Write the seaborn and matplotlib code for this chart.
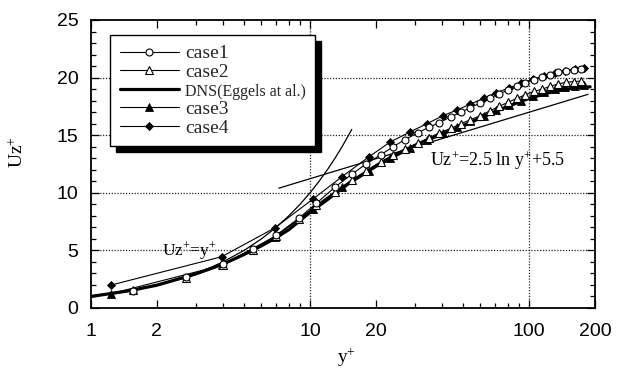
import matplotlib
matplotlib.use("Agg")
import matplotlib.pyplot as plt
import seaborn as sns
from matplotlib.patches import Rectangle
from matplotlib.ticker import FixedLocator, NullFormatter

# ---------------- data ----------------
dns_yp = [0.8, 1.0, 1.5, 2.0, 3.0, 4.0, 5.0, 6.0, 7.0, 8.0, 10.0, 12.0, 15.0, 20.0, 25.0,
          30.0, 40.0, 50.0, 60.0, 80.0, 100.0, 130.0, 160.0, 190.0]
dns_uz = [0.8, 1.0, 1.5, 1.98, 2.95, 3.8, 4.65, 5.4, 6.1, 6.8, 8.3, 9.4, 10.8, 12.3, 13.3,
          14.1, 15.1, 15.8, 16.5, 17.5, 18.2, 18.8, 19.1, 19.2]

case1_yp = [0.8, 1.55, 2.71, 4.0, 5.5, 7.0, 8.9, 10.7, 13.0, 15.5, 18, 21, 24, 27, 31, 35, 39,
            44, 49, 54, 60, 66, 73, 80, 88, 96, 105, 115, 125, 136, 148, 160, 172]
case1_uz = [0.8, 1.5, 2.65, 3.8, 5.1, 6.3, 7.8, 9.1, 10.5, 11.6, 12.5, 13.3, 14.0, 14.6, 15.2,
            15.7, 16.1, 16.6, 17.0, 17.4, 17.8, 18.2, 18.6, 18.9, 19.25, 19.55, 19.8, 20.05,
            20.25, 20.45, 20.6, 20.7, 20.75]

case2_yp = [0.8, 1.55, 2.71, 4.0, 5.5, 7.0, 8.9, 10.7, 13.0, 15.5, 18, 21, 24, 27, 31, 35, 39,
            44, 49, 54, 60, 66, 73, 80, 88, 96, 105, 115, 125, 136, 148, 160, 172]
case2_uz = [0.8, 1.57, 2.6, 3.75, 5.0, 6.25, 7.7, 8.95, 10.1, 11.1, 11.9, 12.7, 13.3, 13.8,
            14.3, 14.8, 15.2, 15.6, 16.0, 16.35, 16.7, 17.1, 17.5, 17.85, 18.2, 18.5, 18.8,
            19.0, 19.25, 19.45, 19.6, 19.65, 19.7]

case3_yp = [0.8, 1.24, 3.95, 6.9, 10.3, 14, 18.5, 23.2, 28.7, 34.2, 40.5, 47, 54, 62, 71, 81,
            92, 104, 117, 131, 146, 162, 178]
case3_uz = [0.75, 1.25, 3.7, 6.2, 8.6, 10.5, 11.9, 13.0, 13.9, 14.6, 15.2, 15.7, 16.2, 16.7,
            17.2, 17.6, 18.0, 18.4, 18.75, 19.0, 19.2, 19.3, 19.4]

case4_yp = [1.24, 3.95, 6.9, 10.3, 14, 18.5, 23.2, 28.7, 34.2, 40.5, 47, 54, 62, 71, 81, 92,
            104, 117, 131, 146, 162, 178]
case4_uz = [2.0, 4.45, 6.95, 9.45, 11.4, 13.1, 14.4, 15.3, 16.0, 16.7, 17.2, 17.7, 18.2, 18.7,
            19.1, 19.5, 19.85, 20.15, 20.4, 20.6, 20.75, 20.85]

# theoretical curves
lin_yp = [1, 1.25, 1.5, 1.75, 2, 2.5, 3, 3.5, 4, 5, 6, 7, 8, 9, 10, 11, 12, 13, 14, 15, 15.5]
lin_uz = [1, 1.25, 1.5, 1.75, 2, 2.5, 3, 3.5, 4, 5, 6, 7, 8, 9, 10, 11, 12, 13, 14, 15, 15.5]
log_yp = [7.2, 186]
log_uz = [10.4, 18.55]

labels = ["case1", "case2", "DNS(Eggels at al.)", "case3", "case4"]
x_ticks = [1, 2, 10, 20, 100, 200]
x_ticklabels = ["1", "2", "10", "20", "100", "200"]
x_minor = [3, 4, 5, 6, 7, 8, 9, 30, 40, 50, 60, 70, 80, 90]
y_ticks = [0, 5, 10, 15, 20, 25]
grid_y = [5, 10, 15, 20]
grid_x = [10, 100]

# ---------------- style ----------------
sns.set_style("ticks")
plt.rcParams["font.family"] = ["Liberation Sans", "DejaVu Sans"]
plt.rcParams["mathtext.fontset"] = "custom"
plt.rcParams["mathtext.rm"] = "Liberation Serif"
plt.rcParams["mathtext.it"] = "Liberation Serif:italic"
plt.rcParams["mathtext.default"] = "rm"
serif = ["Liberation Serif", "DejaVu Serif"]

fig = plt.figure(figsize=(6.18, 3.69), dpi=100)
ax = fig.add_axes([91 / 618, 1 - 308 / 369, 504 / 618, 288 / 369])
ax.set_xscale("log")

# grid
for gy in grid_y:
    ax.axhline(gy, color="#222222", lw=0.9, ls=(0, (1, 1.3)), zorder=0.5)
for gx in grid_x:
    ax.axvline(gx, color="#222222", lw=0.9, ls=(0, (1, 1.3)), zorder=0.5)

# theory lines
sns.lineplot(x=lin_yp, y=lin_uz, ax=ax, color="black", lw=0.9, estimator=None, sort=False)
sns.lineplot(x=log_yp, y=log_uz, ax=ax, color="black", lw=0.9, estimator=None, sort=False)

common = dict(ax=ax, color="black", estimator=None, sort=False)
sns.lineplot(x=dns_yp, y=dns_uz, lw=2.3, **common)
h_dns = ax.get_lines()[-1]
sns.lineplot(x=case3_yp, y=case3_uz, lw=0.8, marker="^", markersize=5.5,
             markerfacecolor="black", markeredgecolor="black", markeredgewidth=0.6, **common)
h3 = ax.get_lines()[-1]
sns.lineplot(x=case2_yp, y=case2_uz, lw=0.8, marker="^", markersize=5.5,
             markerfacecolor="white", markeredgecolor="black", markeredgewidth=0.8, **common)
h2 = ax.get_lines()[-1]
sns.lineplot(x=case4_yp, y=case4_uz, lw=0.8, marker="D", markersize=4.5,
             markerfacecolor="black", markeredgecolor="black", markeredgewidth=0.6, **common)
h4 = ax.get_lines()[-1]
sns.lineplot(x=case1_yp, y=case1_uz, lw=0.8, marker="o", markersize=5,
             markerfacecolor="white", markeredgecolor="black", markeredgewidth=0.8, **common)
h1 = ax.get_lines()[-1]

# axes
ax.set_xlim(1, 200)
ax.set_ylim(0, 25)
ax.xaxis.set_major_locator(FixedLocator(x_ticks))
ax.set_xticklabels(x_ticklabels)
ax.xaxis.set_minor_locator(FixedLocator(x_minor))
ax.xaxis.set_minor_formatter(NullFormatter())
ax.set_yticks(y_ticks)
ax.yaxis.set_minor_locator(FixedLocator(list(range(0, 26))))
ax.tick_params(which="both", direction="in", top=True, right=True, color="black",
               width=0.9, labelsize=14, labelcolor="black")
ax.tick_params(which="major", length=6)
ax.tick_params(which="minor", length=3.5)
ax.tick_params(axis="x", which="major", pad=11)
ax.tick_params(axis="y", which="major", pad=9)
for s in ax.spines.values():
    s.set_linewidth(1.3)
    s.set_color("black")
    s.set_visible(True)

ax.set_ylabel("Uz$^{+}$", family=serif, fontsize=14, color="black")
ax.yaxis.set_label_coords((18 - 91) / 504, (308 - 152) / 288)
ax.yaxis.label.set_verticalalignment("center")
ax.set_xlabel("y$^{+}$", family=serif, fontsize=14, color="black")
ax.xaxis.set_label_coords((346 - 91) / 504, (308 - 358) / 288)
ax.xaxis.label.set_verticalalignment("center")

# annotations
ax.text(2.12, 4.6, "Uz$^{+}$=y$^{+}$", family=serif, fontsize=12.5, ha="left",
        va="baseline", color="black")
ax.text(35.3, 12.3, "Uz$^{+}$=2.5 ln y$^{+}$+5.5", family=serif, fontsize=13, ha="left",
        va="baseline", color="black")

# legend
leg = ax.legend([h1, h2, h_dns, h3, h4], labels, loc="upper left",
                bbox_to_anchor=((110 - 91) / 504, (308 - 35) / 288), borderaxespad=0,
                frameon=True, fancybox=False, framealpha=1, edgecolor="black",
                prop={"family": serif, "size": 14}, labelspacing=0.05, handlelength=3.05,
                handletextpad=0.3, borderpad=0.5)
leg.get_frame().set_linewidth(1.0)
leg.get_texts()[2].set_fontsize(11.5)
leg.set_zorder(6)

fig.canvas.draw()
bb = leg.get_window_extent()
inv = ax.transAxes.inverted()
(x0, y0) = inv.transform((bb.x0 + 6, bb.y0 - 6))
(x1, y1) = inv.transform((bb.x1 + 6, bb.y1 - 6))
ax.add_patch(Rectangle((x0, y0), x1 - x0, y1 - y0, transform=ax.transAxes,
                       facecolor="black", edgecolor="black", clip_on=False, zorder=5.9))

fig.savefig("out.png", dpi=100)
